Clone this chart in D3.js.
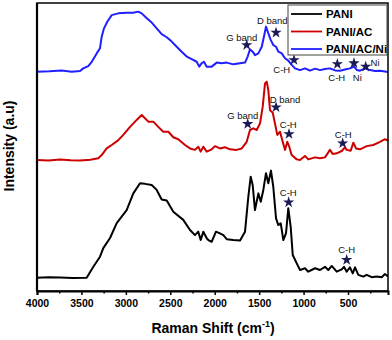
<!DOCTYPE html>
<html>
<head>
<meta charset="utf-8">
<script src="https://d3js.org/d3.v7.min.js"></script>
<style>
  body { margin: 0; background: #fff; }
  svg { font-family: Arial, "Liberation Sans", sans-serif; }
  .spectrum { fill: none; stroke-width: 2; stroke-linejoin: round; }
  .tick text { font-size: 10.5px; font-weight: bold; }
  .note { font-size: 9.5px; fill: #111; }
  .star { fill: #1a1a55; }
</style>
</head>
<body>
<div id="chart"></div>
<script>
// Raman shift (cm-1) and intensity (a.u.)
const pani = [
  [4000,4.6],[3870,4.8],[3741,4.7],[3600,4.5],[3441,4.6],[3366,8.4],[3291,11.9],[3254,14.9],[3178,18.4],
  [3103,23.6],[2991,28.1],[2916,33.9],[2841,37.4],[2785,37.2],[2709,36.8],[2653,35.1],[2597,31.8],
  [2540,31.4],[2466,27.5],[2354,24.7],[2278,21.2],[2222,19.4],[2185,20.6],[2158,17.7],[2128,20.6],
  [2090,18.3],[2072,17.7],[2034,17.1],[1986,20.6],[1941,20.0],[1903,19.4],[1865,18.0],[1791,17.7],
  [1715,17.5],[1659,20.6],[1622,32.7],[1595,39.7],[1573,36.8],[1547,28.1],[1509,33.9],[1482,31.0],
  [1453,35.1],[1423,40.9],[1397,37.4],[1367,41.8],[1341,36.2],[1310,25.2],[1284,22.9],[1257,23.5],
  [1228,17.7],[1198,20.0],[1172,28.7],[1145,22.3],[1122,12.5],[1077,9.6],[1040,7.3],[984,7.9],
  [947,6.7],[871,7.9],[815,7.3],[759,8.4],[722,7.3],[683,8.7],[627,6.7],[571,7.5],[545,8.4],[515,6.7],
  [478,8.2],[447,6.1],[421,8.2],[384,5.6],[328,5.0],[290,5.6],[233,4.8],[177,5.0],[121,4.8],[84,5.9],[50,5.0]
];
const paniAc = [
  [4000,45.5],[3870,45.3],[3741,45.7],[3620,45.4],[3516,45.3],[3400,45.6],[3310,46.1],[3272,47.2],
  [3216,49.5],[3159,50.7],[3085,52.4],[3029,54.2],[2953,57.0],[2878,59.4],[2822,61.1],[2785,60.0],
  [2747,58.8],[2691,58.8],[2635,57.0],[2579,55.3],[2522,55.3],[2466,53.4],[2410,52.7],[2334,50.7],
  [2278,49.5],[2222,49.0],[2185,50.1],[2158,48.4],[2128,50.1],[2090,48.4],[2034,49.2],[1997,50.3],
  [1941,49.5],[1884,49.9],[1828,49.2],[1753,49.0],[1696,49.5],[1640,51.8],[1603,55.9],[1566,56.5],
  [1528,55.9],[1490,58.2],[1460,64.0],[1434,72.1],[1415,72.7],[1397,69.8],[1378,62.8],[1347,61.9],
  [1322,58.2],[1296,54.2],[1265,55.3],[1235,51.8],[1209,49.0],[1183,51.8],[1161,50.1],[1134,47.2],
  [1077,45.7],[1040,45.5],[984,46.9],[947,45.7],[871,46.4],[815,46.1],[759,46.4],[703,49.0],[672,47.6],
  [627,47.8],[571,48.6],[534,49.9],[515,49.0],[470,48.7],[440,51.5],[410,49.5],[365,49.2],[290,50.3],
  [215,50.7],[140,51.8],[84,52.7],[50,52.2]
];
const paniAcNi = [
  [4000,76.1],[3860,76.3],[3722,76.6],[3609,76.1],[3516,76.4],[3479,77.3],[3423,78.1],[3384,79.6],
  [3328,82.5],[3291,84.3],[3272,88.3],[3246,91.2],[3209,93.5],[3159,95.8],[3085,96.4],[2991,96.6],
  [2916,96.6],[2860,97.0],[2822,96.4],[2765,94.7],[2709,93.2],[2653,91.2],[2597,89.2],[2540,88.1],
  [2484,86.6],[2428,84.8],[2372,83.1],[2315,81.4],[2259,80.5],[2203,79.6],[2174,77.9],[2146,79.1],
  [2121,79.6],[2090,77.9],[2034,77.9],[1978,79.3],[1921,79.1],[1865,79.3],[1791,78.7],[1715,79.1],
  [1659,79.3],[1629,81.4],[1603,83.9],[1573,83.1],[1547,81.9],[1509,82.5],[1471,84.8],[1442,88.9],
  [1423,91.8],[1397,89.5],[1370,87.2],[1341,85.4],[1310,84.8],[1284,83.1],[1246,82.5],[1209,80.8],
  [1172,80.0],[1134,78.5],[1096,77.3],[1040,76.7],[984,77.3],[928,76.5],[871,77.2],[815,76.7],
  [759,77.1],[703,77.3],[646,76.6],[590,76.5],[534,76.9],[478,77.3],[433,77.9],[399,76.7],[365,76.5],
  [309,77.3],[252,76.7],[196,76.4],[140,76.5],[84,76.2],[50,76.0]
];

const seriesNames = ['PANI', 'PANI/AC', 'PANI/AC/Ni'];
const seriesColors = ['#000000', '#cc0000', '#1f1fff'];

// star marks: [shift, intensity]; labels: [text, shift, intensity]
const stars = [
  [1640,85.4],[1310,89.7],[1108,80.2],[620,78.8],[433,79.1],[301,77.9],
  [1629,58.0],[1310,63.8],[1164,54.5],[560,51.3],
  [1168,30.8],[515,10.8]
];
const notes = [
  ['G band',1696,88.1],['D band',1352,93.9],['C-H',1246,76.7],['C-H',627,73.9],['Ni',395,74.2],['Ni',196,79.3],
  ['G band',1685,60.8],['D band',1209,66.6],['C-H',1172,57.6],['C-H',553,54.2],
  ['C-H',1172,34.3],['C-H',515,14.5]
];

const xTicks = [4000, 3500, 3000, 2500, 2000, 1500, 1000, 500];
const xMinor = [3750, 3250, 2750, 2250, 1750, 1250, 750, 250];

const W = 392, H = 340;
const svg = d3.select('#chart').append('svg').attr('width', W).attr('height', H);

const x = d3.scaleLinear().domain([4000, 50]).range([37, 388]);
const y = d3.scaleLinear().domain([0, 100]).range([291, 3]);

const line = d3.line().x(d => x(d[0])).y(d => y(d[1]));

[pani, paniAc, paniAcNi].forEach((s, i) => {
  svg.append('path').datum(s)
    .attr('class', 'spectrum')
    .attr('stroke', seriesColors[i])
    .attr('d', line);
});

// annotations
svg.selectAll('.star').data(stars).enter().append('path')
  .attr('class', 'star')
  .attr('d', d3.symbol().type(d3.symbolStar).size(40))
  .attr('transform', d => `translate(${x(d[0])},${y(d[1])})`);

svg.selectAll('.note').data(notes).enter().append('text')
  .attr('class', 'note')
  .attr('x', d => x(d[1]))
  .attr('y', d => y(d[2]))
  .attr('dy', '0.35em')
  .attr('text-anchor', 'middle')
  .text(d => d[0]);

// frame
svg.append('rect')
  .attr('x', 37).attr('y', 3)
  .attr('width', 351).attr('height', 288)
  .attr('fill', 'none').attr('stroke', '#000').attr('stroke-width', 1.5);

// x axis
const xAxis = svg.append('g')
  .attr('transform', 'translate(0,291)')
  .call(d3.axisBottom(x).tickValues(xTicks).tickSize(4).tickPadding(5).tickFormat(d3.format('d')));
xAxis.select('.domain').attr('stroke-width', 2);
xAxis.selectAll('.tick line').attr('stroke-width', 1.5);
svg.append('g')
  .attr('transform', 'translate(0,291)')
  .call(d3.axisBottom(x).tickValues(xMinor).tickSize(2.5).tickFormat(''))
  .call(g => g.select('.domain').remove())
  .selectAll('.tick line').attr('stroke-width', 1.5);

// left axis line
svg.append('line')
  .attr('x1', 37).attr('x2', 37).attr('y1', 3).attr('y2', 291)
  .attr('stroke', '#000').attr('stroke-width', 2.2);

// axis titles
const xt = svg.append('text')
  .attr('x', 213).attr('y', 333)
  .attr('text-anchor', 'middle')
  .attr('font-size', 14).attr('font-weight', 'bold');
xt.append('tspan').text('Raman Shift (cm');
xt.append('tspan').attr('font-size', 9).attr('dy', -6).text('-1');
xt.append('tspan').attr('dy', 6).text(')');

svg.append('text')
  .attr('transform', 'translate(14,146) rotate(-90)')
  .attr('text-anchor', 'middle')
  .attr('font-size', 14).attr('font-weight', 'bold')
  .text('Intensity (a.u)');

// legend
const lg = svg.append('g');
lg.append('rect')
  .attr('x', 288).attr('y', 5).attr('width', 99).attr('height', 50)
  .attr('fill', '#fff').attr('stroke', '#444').attr('stroke-width', 1);
seriesNames.forEach((name, i) => {
  const ly = 14 + i * 17.5;
  lg.append('line')
    .attr('x1', 291).attr('x2', 322).attr('y1', ly).attr('y2', ly)
    .attr('stroke', seriesColors[i]).attr('stroke-width', 1.8);
  lg.append('text')
    .attr('x', 326).attr('y', ly).attr('dy', '0.35em')
    .attr('font-size', 11.5).attr('font-weight', 'bold')
    .text(name);
});
</script>
</body>
</html>
